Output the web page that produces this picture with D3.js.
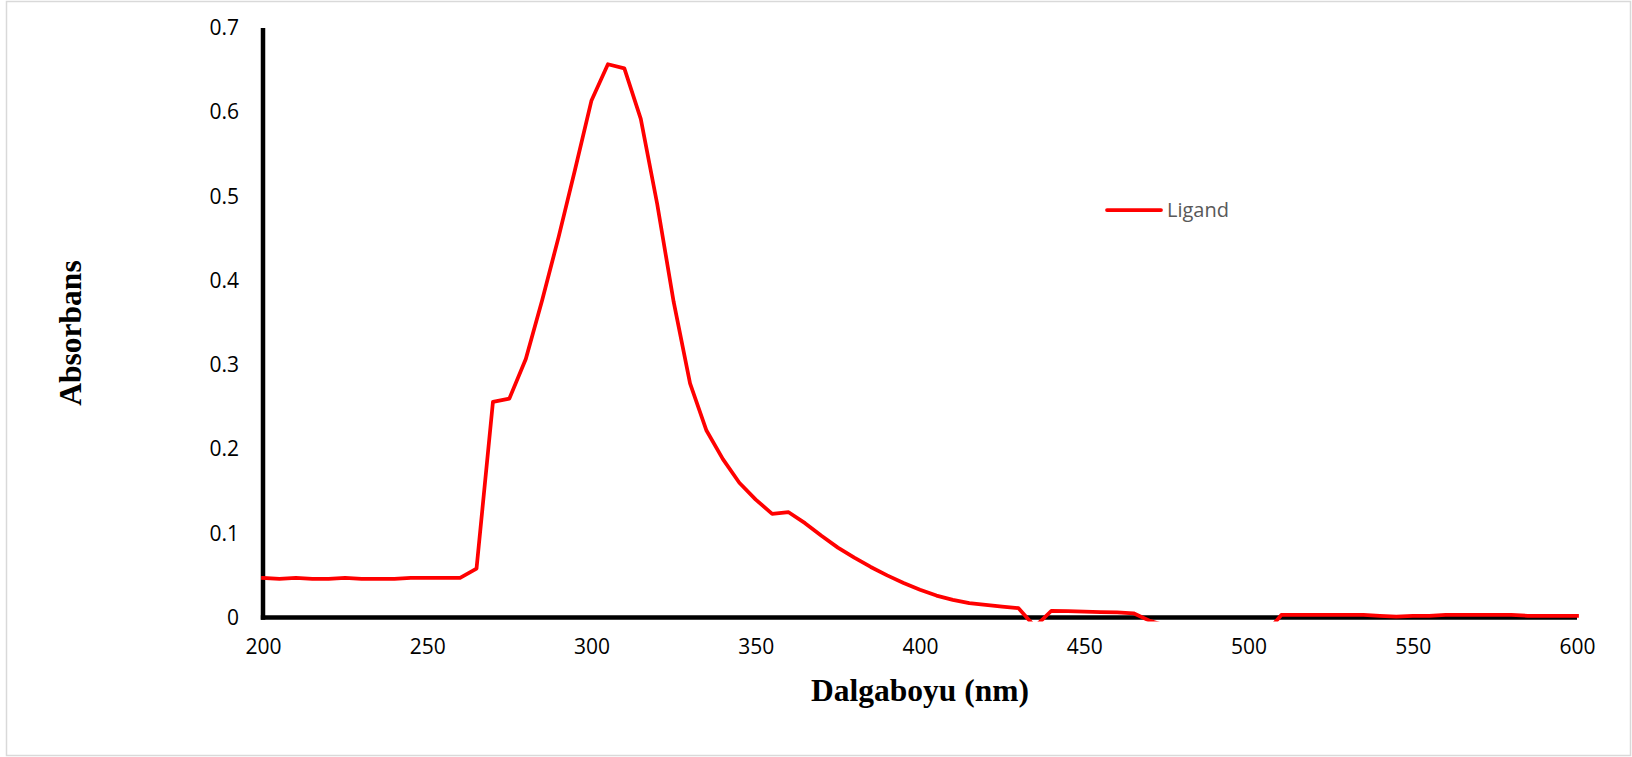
<!DOCTYPE html>
<html>
<head>
<meta charset="utf-8">
<script src="https://cdn.jsdelivr.net/npm/d3@7"></script>
<style>
  html, body { margin: 0; padding: 0; background: #fff; }
  svg { display: block; }
</style>
</head>
<body>
<svg id="chart" width="1632" height="757"></svg>
<script>
// UV-Vis absorption spectrum of the ligand
const wavelengths = [
  200, 205, 210, 215, 220, 225, 230, 235, 240, 245,
  250, 255, 260, 265, 270, 275, 280, 285, 290, 295,
  300, 305, 310, 315, 320, 325, 330, 335, 340, 345,
  350, 355, 360, 365, 370, 375, 380, 385, 390, 395,
  400, 405, 410, 415, 420, 425, 430, 435, 440, 445,
  450, 455, 460, 465, 470, 475, 480, 485, 490, 495,
  500, 505, 510, 515, 520, 525, 530, 535, 540, 545,
  550, 555, 560, 565, 570, 575, 580, 585, 590, 595,
  600
];
const ligandAbs = [
  0.047, 0.046, 0.047, 0.046, 0.046, 0.047, 0.046, 0.046, 0.046, 0.047,
  0.047, 0.047, 0.047, 0.058, 0.256, 0.260, 0.307, 0.377, 0.452, 0.532,
  0.614, 0.657, 0.652, 0.592, 0.491, 0.375, 0.278, 0.222, 0.188, 0.160,
  0.140, 0.123, 0.125, 0.112, 0.097, 0.083, 0.071, 0.060, 0.050, 0.041,
  0.033, 0.026, 0.021, 0.017, 0.015, 0.013, 0.011, -0.011, 0.008, 0.0075,
  0.007, 0.0065, 0.006, 0.005, -0.004, -0.010, -0.010, -0.010, -0.010, -0.010,
  -0.010, -0.020, 0.003, 0.003, 0.003, 0.003, 0.003, 0.003, 0.002, 0.001,
  0.002, 0.002, 0.003, 0.003, 0.003, 0.003, 0.003, 0.002, 0.002, 0.002,
  0.002
];
const xTicks = [200, 250, 300, 350, 400, 450, 500, 550, 600];
const yTicks = [0, 0.1, 0.2, 0.3, 0.4, 0.5, 0.6, 0.7];
const seriesName = "Ligand";
const xTitle = "Dalgaboyu (nm)";
const yTitle = "Absorbans";

const svg = d3.select("#chart");
const W = 1632, H = 757;
const plot = { left: 263, right: 1577, top: 28, bottom: 617.5 };

const x = d3.scaleLinear().domain([200, 600]).range([plot.left, plot.right]);
const y = d3.scaleLinear().domain([0, 0.7]).range([plot.bottom, plot.top]);

const tickFont = '"Open Sans", "Noto Sans", sans-serif';
const titleFont = '"Liberation Serif", "Times New Roman", serif';

// chart frame
svg.append("rect")
  .attr("x", 6.5).attr("y", 1.5)
  .attr("width", W - 8).attr("height", H - 3)
  .attr("fill", "#fff")
  .attr("stroke", "#d9d9d9").attr("stroke-width", 1.5);

// axes
const xAxis = d3.axisBottom(x).tickValues(xTicks).tickSize(0).tickPadding(22)
  .tickFormat(d3.format("d"));
const yAxis = d3.axisLeft(y).tickValues(yTicks).tickSize(0).tickPadding(24)
  .tickFormat(d => d === 0 ? "0" : d3.format(".1f")(d));

const gx = svg.append("g").attr("transform", `translate(0,${plot.bottom})`).call(xAxis);
gx.select(".domain").attr("stroke", "#000").attr("stroke-width", 4.5)
  .attr("d", `M${plot.left - 2.2},0H${plot.right}`);
gx.selectAll(".tick text")
  .attr("font-family", tickFont).attr("font-size", 21)
  .attr("fill", "#000").attr("dy", "0.71em");

const gy = svg.append("g").attr("transform", `translate(${plot.left},0)`).call(yAxis);
gy.select(".domain").attr("stroke", "#000").attr("stroke-width", 4.5)
  .attr("d", `M0,${plot.top}V${plot.bottom + 2.2}`);
gy.selectAll(".tick text")
  .attr("font-family", tickFont).attr("font-size", 21)
  .attr("fill", "#000");

// clip region for the series (values below zero are hidden)
svg.append("clipPath").attr("id", "plotClip")
  .append("rect")
  .attr("x", plot.left - 2).attr("y", plot.top - 4)
  .attr("width", plot.right - plot.left + 6)
  .attr("height", plot.bottom - plot.top + 8);

const points = wavelengths.map((w, i) => [w, ligandAbs[i]]);
const line = d3.line().x(d => x(d[0])).y(d => y(d[1]));

svg.append("path")
  .datum(points)
  .attr("clip-path", "url(#plotClip)")
  .attr("d", line)
  .attr("fill", "none")
  .attr("stroke", "#ff0000")
  .attr("stroke-width", 3.75)
  .attr("stroke-linejoin", "round")
  .attr("stroke-linecap", "square");

// legend
const legend = svg.append("g").attr("transform", "translate(1107,210)");
legend.append("line")
  .attr("x1", 0).attr("x2", 54).attr("y1", 0).attr("y2", 0)
  .attr("stroke", "#ff0000").attr("stroke-width", 3.75)
  .attr("stroke-linecap", "round");
legend.append("text")
  .attr("x", 60).attr("y", 0).attr("dy", "0.35em")
  .attr("font-family", tickFont).attr("font-size", 20)
  .attr("fill", "#595959")
  .text(seriesName);

// axis titles
svg.append("text")
  .attr("x", (plot.left + plot.right) / 2).attr("y", 701)
  .attr("text-anchor", "middle")
  .attr("font-family", titleFont).attr("font-weight", "bold")
  .attr("font-size", 31.5).attr("fill", "#000")
  .text(xTitle);

svg.append("text")
  .attr("transform", "translate(81,333) rotate(-90)")
  .attr("text-anchor", "middle")
  .attr("font-family", titleFont).attr("font-weight", "bold")
  .attr("font-size", 31.5).attr("fill", "#000")
  .text(yTitle);
</script>
</body>
</html>
